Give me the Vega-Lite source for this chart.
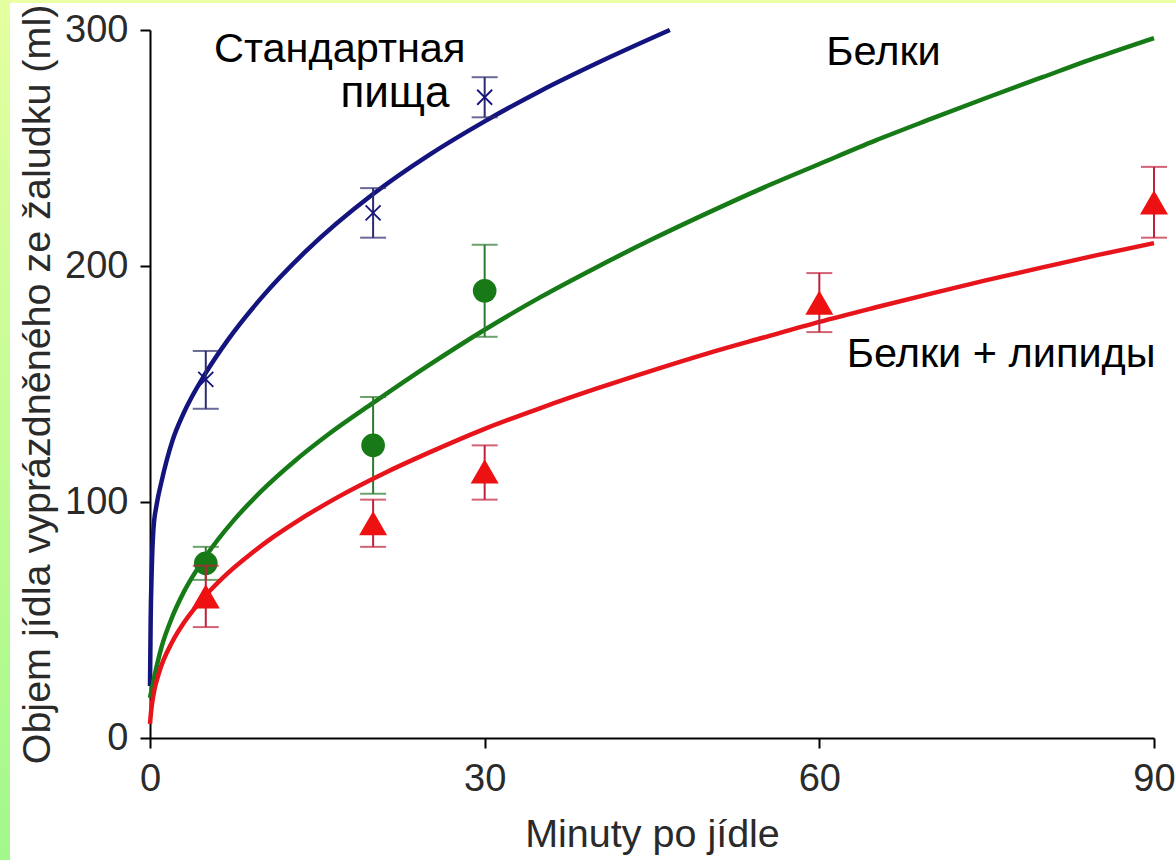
{
  "$schema": "https://vega.github.io/schema/vega-lite/v6.json",
  "padding": 0,
  "background": "white",
  "config": {
    "view": {"stroke": null},
    "font": "Liberation Sans",
    "axis": {
      "domainColor": "#000000",
      "domainWidth": 2,
      "tickColor": "#000000",
      "tickWidth": 2,
      "tickSize": 10,
      "grid": false,
      "labelFont": "Liberation Sans",
      "labelFontSize": 38,
      "labelColor": "#2a2a2a",
      "labelPadding": 12,
      "labelFlush": false,
      "labelOverlap": false,
      "titleFont": "Liberation Sans",
      "titleFontSize": 39.5,
      "titleFontWeight": "normal",
      "titleColor": "#2a2a2a"
    }
  },
  "datasets": {
    "curves": [
      {"series": "Стандартная пища", "minutes": 0, "volume": 22},
      {"series": "Стандартная пища", "minutes": 0.06, "volume": 50},
      {"series": "Стандартная пища", "minutes": 0.15, "volume": 70},
      {"series": "Стандартная пища", "minutes": 0.3, "volume": 88},
      {"series": "Стандартная пища", "minutes": 0.6, "volume": 99},
      {"series": "Стандартная пища", "minutes": 1, "volume": 108},
      {"series": "Стандартная пища", "minutes": 2, "volume": 125.8},
      {"series": "Стандартная пища", "minutes": 3, "volume": 137.5},
      {"series": "Стандартная пища", "minutes": 5, "volume": 154.7},
      {"series": "Стандартная пища", "minutes": 7, "volume": 168.8},
      {"series": "Стандартная пища", "minutes": 10, "volume": 186.6},
      {"series": "Стандартная пища", "minutes": 14, "volume": 206.4},
      {"series": "Стандартная пища", "minutes": 20, "volume": 230.5},
      {"series": "Стандартная пища", "minutes": 25, "volume": 247},
      {"series": "Стандартная пища", "minutes": 30, "volume": 261.3},
      {"series": "Стандартная пища", "minutes": 35, "volume": 274.2},
      {"series": "Стандартная пища", "minutes": 40, "volume": 285.8},
      {"series": "Стандартная пища", "minutes": 46.6, "volume": 300},
      {"series": "Белки", "minutes": 0, "volume": 17},
      {"series": "Белки", "minutes": 0.3, "volume": 24},
      {"series": "Белки", "minutes": 1, "volume": 38},
      {"series": "Белки", "minutes": 2, "volume": 51.4},
      {"series": "Белки", "minutes": 3, "volume": 61.6},
      {"series": "Белки", "minutes": 5, "volume": 77},
      {"series": "Белки", "minutes": 7.5, "volume": 92.2},
      {"series": "Белки", "minutes": 10, "volume": 104.7},
      {"series": "Белки", "minutes": 13, "volume": 117.5},
      {"series": "Белки", "minutes": 16, "volume": 128.7},
      {"series": "Белки", "minutes": 20, "volume": 142},
      {"series": "Белки", "minutes": 25, "volume": 158},
      {"series": "Белки", "minutes": 30, "volume": 173},
      {"series": "Белки", "minutes": 35, "volume": 186.8},
      {"series": "Белки", "minutes": 40, "volume": 199.4},
      {"series": "Белки", "minutes": 45, "volume": 211.3},
      {"series": "Белки", "minutes": 50, "volume": 222.5},
      {"series": "Белки", "minutes": 55, "volume": 233.2},
      {"series": "Белки", "minutes": 60, "volume": 243.2},
      {"series": "Белки", "minutes": 65, "volume": 253.1},
      {"series": "Белки", "minutes": 70, "volume": 262.3},
      {"series": "Белки", "minutes": 75, "volume": 271.3},
      {"series": "Белки", "minutes": 80, "volume": 280},
      {"series": "Белки", "minutes": 85, "volume": 288.6},
      {"series": "Белки", "minutes": 90, "volume": 296.6},
      {"series": "Белки + липиды", "minutes": 0, "volume": 6},
      {"series": "Белки + липиды", "minutes": 0.1, "volume": 11.3},
      {"series": "Белки + липиды", "minutes": 0.3, "volume": 18.1},
      {"series": "Белки + липиды", "minutes": 0.8, "volume": 27.5},
      {"series": "Белки + липиды", "minutes": 2, "volume": 40.8},
      {"series": "Белки + липиды", "minutes": 3, "volume": 48.6},
      {"series": "Белки + липиды", "minutes": 5, "volume": 60.5},
      {"series": "Белки + липиды", "minutes": 7, "volume": 70},
      {"series": "Белки + липиды", "minutes": 9, "volume": 77.9},
      {"series": "Белки + липиды", "minutes": 11, "volume": 85},
      {"series": "Белки + липиды", "minutes": 13, "volume": 91.3},
      {"series": "Белки + липиды", "minutes": 15, "volume": 97.1},
      {"series": "Белки + липиды", "minutes": 17, "volume": 102.5},
      {"series": "Белки + липиды", "minutes": 21, "volume": 112.2},
      {"series": "Белки + липиды", "minutes": 25, "volume": 120.9},
      {"series": "Белки + липиды", "minutes": 30, "volume": 131},
      {"series": "Белки + липиды", "minutes": 35, "volume": 139.8},
      {"series": "Белки + липиды", "minutes": 40, "volume": 148},
      {"series": "Белки + липиды", "minutes": 45, "volume": 155.7},
      {"series": "Белки + липиды", "minutes": 50, "volume": 163},
      {"series": "Белки + липиды", "minutes": 55, "volume": 169.7},
      {"series": "Белки + липиды", "minutes": 60, "volume": 176.3},
      {"series": "Белки + липиды", "minutes": 65, "volume": 182.4},
      {"series": "Белки + липиды", "minutes": 70, "volume": 188.3},
      {"series": "Белки + липиды", "minutes": 75, "volume": 194},
      {"series": "Белки + липиды", "minutes": 80, "volume": 199.4},
      {"series": "Белки + липиды", "minutes": 85, "volume": 204.7},
      {"series": "Белки + липиды", "minutes": 90, "volume": 209.7}
    ],
    "points": [
      {"series": "Стандартная пища", "minutes": 5, "mean": 152, "low": 139.5, "high": 164},
      {"series": "Стандартная пища", "minutes": 20, "mean": 222.5, "low": 212, "high": 233},
      {"series": "Стандартная пища", "minutes": 30, "mean": 271.5, "low": 263, "high": 280},
      {"series": "Белки", "minutes": 5, "mean": 74, "low": 67, "high": 81},
      {"series": "Белки", "minutes": 20, "mean": 124, "low": 103.5, "high": 144.5},
      {"series": "Белки", "minutes": 30, "mean": 189.5, "low": 170, "high": 209},
      {"series": "Белки + липиды", "minutes": 5, "mean": 60, "low": 47, "high": 73},
      {"series": "Белки + липиды", "minutes": 20, "mean": 91, "low": 81, "high": 101},
      {"series": "Белки + липиды", "minutes": 30, "mean": 113, "low": 101, "high": 124},
      {"series": "Белки + липиды", "minutes": 60, "mean": 184.5, "low": 172, "high": 197},
      {"series": "Белки + липиды", "minutes": 90, "mean": 227, "low": 212, "high": 242}
    ],
    "labels": [
      {"text": "Стандартная", "minutes": 17.0, "volume": 286.3, "big": false},
      {"text": "пища", "minutes": 21.96, "volume": 267.2, "big": true},
      {"text": "Белки", "minutes": 65.75, "volume": 285.2, "big": false},
      {"text": "Белки + липиды", "minutes": 76.3, "volume": 157.3, "big": false}
    ]
  },
  "spacing": 0,
  "bounds": "flush",
  "hconcat": [
    {
      "width": 10,
      "height": 860,
      "data": {"values": [{}]},
      "mark": {
        "type": "rect",
        "color": {
          "gradient": "linear",
          "x1": 0, "y1": 0, "x2": 0, "y2": 1,
          "stops": [
            {"offset": 0, "color": "#e4ffa0"},
            {"offset": 0.5, "color": "#c4fc95"},
            {"offset": 1, "color": "#a3f88c"}
          ]
        }
      },
      "encoding": {}
    },
    {
      "spacing": 27,
      "bounds": "flush",
      "vconcat": [
        {
          "width": 1166,
          "height": 3,
          "data": {"values": [{}]},
          "mark": {"type": "rect", "color": "#ebffa4"},
          "encoding": {}
        },
        {
          "spacing": 139,
          "bounds": "flush",
          "hconcat": [
            {
              "width": 1,
              "height": 708,
              "data": {"values": [{}]},
              "mark": {"type": "rect", "opacity": 0},
              "encoding": {}
            },
            {
              "width": 1004,
              "height": 708,
              "encoding": {
                "x": {
                  "field": "minutes", "type": "quantitative",
                  "title": "Minuty po jídle",
                  "scale": {"domain": [0, 90], "nice": false},
                  "axis": {"values": [0, 30, 60, 90], "titlePadding": 17}
                }
              },
              "layer": [
                {
                  "data": {"name": "curves"},
                  "transform": [{"filter": "datum.series === 'Стандартная пища'"}],
                  "mark": {"type": "line", "color": "#14147e", "strokeWidth": 4.5, "interpolate": "monotone"},
                  "encoding": {
                    "y": {
                      "field": "volume", "type": "quantitative",
                      "title": "Objem jídla vyprázdněného ze žaludku (ml)",
                      "scale": {"domain": [0, 300], "nice": false},
                      "axis": {"values": [0, 100, 200, 300], "titlePadding": 7}
                    }
                  }
                },
                {
                  "data": {"name": "points"},
                  "transform": [{"filter": "datum.series === 'Стандартная пища'"}],
                  "mark": {"type": "errorbar", "ticks": true, "color": "#2b2b6e", "thickness": 2, "size": 26},
                  "encoding": {
                    "y": {"field": "low", "type": "quantitative", "title": "Objem jídla vyprázdněného ze žaludku (ml)"},
                    "y2": {"field": "high"}
                  }
                },
                {
                  "data": {"name": "points"},
                  "transform": [{"filter": "datum.series === 'Стандартная пища'"}],
                  "mark": {"type": "point", "shape": "M-1,-1L1,1M-1,1L1,-1", "filled": false, "strokeWidth": 1.8, "size": 225, "color": "#14147e", "opacity": 1},
                  "encoding": {
                    "y": {"field": "mean", "type": "quantitative", "title": "Objem jídla vyprázdněného ze žaludku (ml)"}
                  }
                },
                {
                  "data": {"name": "curves"},
                  "transform": [{"filter": "datum.series === 'Белки'"}],
                  "mark": {"type": "line", "color": "#167a16", "strokeWidth": 4.5, "interpolate": "monotone"},
                  "encoding": {
                    "y": {"field": "volume", "type": "quantitative", "title": "Objem jídla vyprázdněného ze žaludku (ml)"}
                  }
                },
                {
                  "data": {"name": "points"},
                  "transform": [{"filter": "datum.series === 'Белки'"}],
                  "mark": {"type": "errorbar", "ticks": true, "color": "#2d7a2d", "thickness": 2, "size": 26},
                  "encoding": {
                    "y": {"field": "low", "type": "quantitative", "title": "Objem jídla vyprázdněného ze žaludku (ml)"},
                    "y2": {"field": "high"}
                  }
                },
                {
                  "data": {"name": "points"},
                  "transform": [{"filter": "datum.series === 'Белки'"}],
                  "mark": {"type": "point", "shape": "circle", "filled": true, "size": 560, "color": "#177a17", "opacity": 1},
                  "encoding": {
                    "y": {"field": "mean", "type": "quantitative", "title": "Objem jídla vyprázdněného ze žaludku (ml)"}
                  }
                },
                {
                  "data": {"name": "curves"},
                  "transform": [{"filter": "datum.series === 'Белки + липиды'"}],
                  "mark": {"type": "line", "color": "#e8141c", "strokeWidth": 4.5, "interpolate": "monotone"},
                  "encoding": {
                    "y": {"field": "volume", "type": "quantitative", "title": "Objem jídla vyprázdněného ze žaludku (ml)"}
                  }
                },
                {
                  "data": {"name": "points"},
                  "transform": [{"filter": "datum.series === 'Белки + липиды'"}],
                  "mark": {"type": "errorbar", "ticks": true, "color": "#c0203a", "thickness": 2, "size": 26},
                  "encoding": {
                    "y": {"field": "low", "type": "quantitative", "title": "Objem jídla vyprázdněného ze žaludku (ml)"},
                    "y2": {"field": "high"}
                  }
                },
                {
                  "data": {"name": "points"},
                  "transform": [{"filter": "datum.series === 'Белки + липиды'"}],
                  "mark": {"type": "point", "shape": "triangle-up", "filled": true, "size": 784, "color": "#ee1111", "opacity": 1},
                  "encoding": {
                    "y": {"field": "mean", "type": "quantitative", "title": "Objem jídla vyprázdněného ze žaludku (ml)"}
                  }
                },
                {
                  "data": {"name": "labels"},
                  "transform": [{"filter": "!datum.big"}],
                  "mark": {"type": "text", "font": "Liberation Sans", "fontSize": 41.5, "color": "#000000", "align": "center", "baseline": "alphabetic"},
                  "encoding": {
                    "y": {"field": "volume", "type": "quantitative", "title": "Objem jídla vyprázdněného ze žaludku (ml)"},
                    "text": {"field": "text"}
                  }
                },
                {
                  "data": {"name": "labels"},
                  "transform": [{"filter": "datum.big"}],
                  "mark": {"type": "text", "font": "Liberation Sans", "fontSize": 44, "color": "#000000", "align": "center", "baseline": "alphabetic"},
                  "encoding": {
                    "y": {"field": "volume", "type": "quantitative", "title": "Objem jídla vyprázdněného ze žaludku (ml)"},
                    "text": {"field": "text"}
                  }
                }
              ]
            }
          ]
        }
      ]
    }
  ]
}
